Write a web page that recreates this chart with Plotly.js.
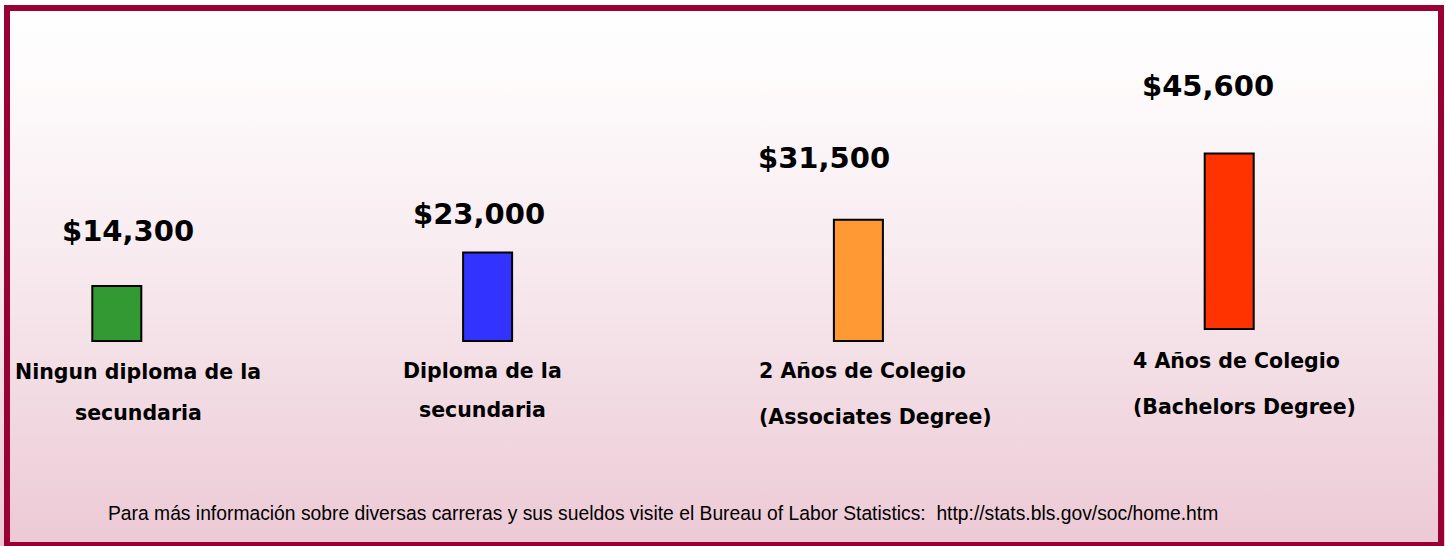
<!DOCTYPE html>
<html>
<head>
<meta charset="utf-8">
<script src="https://cdn.plot.ly/plotly-3.0.1.min.js"></script>
<style>
  html, body { margin: 0; padding: 0; }
  #chart {
    width: 1445px; height: 546px;
    background: linear-gradient(to bottom, #ffffff 0%, #fefcfc 12%, #f8ecf0 45%, #ecc9d5 100%);
  }
</style>
</head>
<body>
<div id="chart"></div>
<script>
// ---- data ----
const categories = ["Ningun diploma de la secundaria", "Diploma de la secundaria",
                    "2 Años de Colegio (Associates Degree)", "4 Años de Colegio (Bachelors Degree)"];
const salaries = [14300, 23000, 31500, 45600];
const valueLabels = ["$14,300", "$23,000", "$31,500", "$45,600"];
const labelLine1 = ["Ningun diploma de la", "Diploma de la", "2 Años de Colegio", "4 Años de Colegio"];
const labelLine2 = ["secundaria", "secundaria", "(Associates Degree)", "(Bachelors Degree)"];
const barColors = ["#339933", "#3333FF", "#FF9933", "#FF3300"];
const footer = "Para más información sobre diversas carreras y sus sueldos visite el Bureau of Labor Statistics:  http://stats.bls.gov/soc/home.htm";

// ---- layout helpers ----
const W = 1445, H = 546;
const px = x => x / W;
const py = y => 1 - y / H;
const step = 370.8, first = 116.8;   // pixel spacing of categories

const trace = {
  type: "bar",
  x: categories,
  y: salaries,
  base: [0, 0, 0, 3100],
  width: 49 / step,
  marker: { color: barColors, line: { color: "#000000", width: 2 } },
  hoverinfo: "none"
};

const boldFont = { family: "DejaVu Sans, Verdana, sans-serif", size: 29, color: "#000000", weight: 700 };
const catFont = { family: "DejaVu Sans, Verdana, sans-serif", size: 20.5, color: "#000000", weight: 700 };

const valuePos = [[128, 231], [479, 214], [824, 158], [1208, 86]];
const line1Pos = [[138, 372, "center"], [482, 371, "center"], [757, 371, "left"], [1131, 361, "left"]];
const line2Pos = [[138, 413, "center"], [482, 410, "center"], [757, 417, "left"], [1131, 407, "left"]];

const annotations = [];
valueLabels.forEach((t, i) => {
  annotations.push({ text: t, xref: "paper", yref: "paper", x: px(valuePos[i][0]), y: py(valuePos[i][1]),
    xanchor: "center", yanchor: "middle", showarrow: false, font: boldFont });
});
labelLine1.forEach((t, i) => {
  annotations.push({ text: t, xref: "paper", yref: "paper", x: px(line1Pos[i][0]), y: py(line1Pos[i][1]),
    xanchor: line1Pos[i][2], yanchor: "middle", showarrow: false, font: catFont });
});
labelLine2.forEach((t, i) => {
  annotations.push({ text: t, xref: "paper", yref: "paper", x: px(line2Pos[i][0]), y: py(line2Pos[i][1]),
    xanchor: line2Pos[i][2], yanchor: "middle", showarrow: false, font: catFont });
});
annotations.push({ text: footer, xref: "paper", yref: "paper", x: px(663), y: py(513),
  xanchor: "center", yanchor: "middle", showarrow: false,
  font: { family: "Liberation Sans, Arial, sans-serif", size: 19.3, color: "#000000" } });

const k = 3.85; // px per 1000
const layout = {
  width: W, height: H,
  margin: { l: 0, r: 0, t: 0, b: 0, pad: 0 },
  paper_bgcolor: "rgba(0,0,0,0)",
  plot_bgcolor: "rgba(0,0,0,0)",
  showlegend: false,
  xaxis: { type: "category", visible: false, range: [-first / step, -first / step + W / step], fixedrange: true },
  yaxis: { visible: false, range: [-(H - 341) / k * 1000, 341 / k * 1000], fixedrange: true },
  annotations: annotations,
  shapes: [{ type: "rect", xref: "paper", yref: "paper",
    x0: px(7), x1: px(1441), y0: py(545), y1: py(8),
    line: { color: "#990033", width: 6 }, fillcolor: "rgba(0,0,0,0)" }]
};

Plotly.newPlot("chart", [trace], layout, { displayModeBar: false, staticPlot: true });
</script>
</body>
</html>
